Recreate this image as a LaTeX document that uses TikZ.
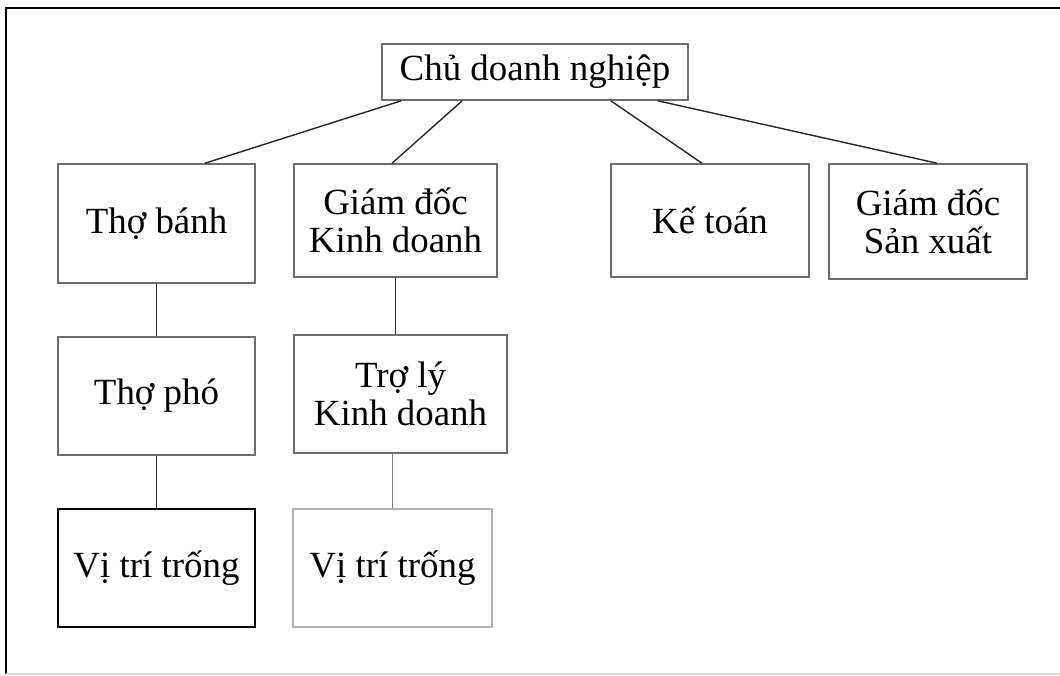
\documentclass[tikz,border=0pt]{standalone}
\usepackage{fontspec}
\setmainfont{Liberation Serif}
\usetikzlibrary{positioning,calc}

\begin{document}
\begin{tikzpicture}[
    role/.style={draw=gray!85!black, line width=0.45pt, align=center,
                 inner sep=0pt, font=\fontsize{10.5}{10.8}\selectfont},
    vacant/.style={role, draw=black, line width=0.6pt},
    lightrole/.style={role, draw=gray!60},
    link/.style={draw=black!85, line width=0.4pt},
  ]

  % === Page frame ===
  \useasboundingbox (0,0) rectangle (10.6,-6.75);
  \coordinate (frametl) at (0.06,-0.08);
  \coordinate (framebl) at (0.06,-6.74);
  \coordinate (frametr) at (10.6,-0.08);
  \coordinate (framebr) at (10.6,-6.74);
  \draw[line width=0.6pt] (framebl) -- (frametl) -- (frametr);
  \draw[gray!30, line width=0.4pt] (framebl) -- (framebr);

  % === Owner (top) ===
  \node[role, minimum width=3.06cm, minimum height=0.56cm] (owner)
    at (5.35,-0.72) {Chủ doanh nghiệp};

  % === Second row ===
  \node[role, minimum width=1.97cm, minimum height=1.19cm] (baker)
    at (1.565,-2.235) {Thợ bánh};
  \node[role, minimum width=2.03cm, minimum height=1.13cm] (salesdir)
    at (3.955,-2.205) {Giám đốc\\Kinh doanh};
  \node[role, minimum width=1.98cm, minimum height=1.13cm] (accountant)
    at (7.10,-2.205) {Kế toán};
  \node[role, minimum width=1.98cm, minimum height=1.15cm] (proddir)
    at (9.28,-2.215) {Giám đốc\\Sản xuất};

  % === Third row ===
  \node[role, minimum width=1.97cm, minimum height=1.18cm] (helper)
    at (1.565,-3.96) {Thợ phó};
  \node[role, minimum width=2.13cm, minimum height=1.18cm] (salesasst)
    at (4.005,-3.94) {Trợ lý\\Kinh doanh};

  % === Open positions ===
  \node[vacant, minimum width=1.97cm, minimum height=1.18cm] (vacant1)
    at (1.565,-5.68) {Vị trí trống};
  \node[lightrole, minimum width=1.99cm, minimum height=1.18cm] (vacant2)
    at (3.925,-5.68) {Vị trí trống};

  % === Links ===
  \draw[link] ([xshift=0.2cm]owner.south west) -- ([xshift=0.485cm]baker.north);
  \draw[link] ([xshift=0.81cm]owner.south west) -- ([xshift=-0.035cm]salesdir.north);
  \draw[link] ([xshift=-0.78cm]owner.south east) -- ([xshift=-0.08cm]accountant.north);
  \draw[link] ([xshift=-0.31cm]owner.south east) -- ([xshift=0.09cm]proddir.north);

  \draw[link] (baker.south) -- (helper.north);
  \draw[link] (helper.south) -- (vacant1.north);
  \draw[link] (salesdir.south) -- (salesdir.south |- salesasst.north);
  \draw[link, gray] (salesasst.south -| vacant2.north) -- (vacant2.north);

\end{tikzpicture}
\end{document}
